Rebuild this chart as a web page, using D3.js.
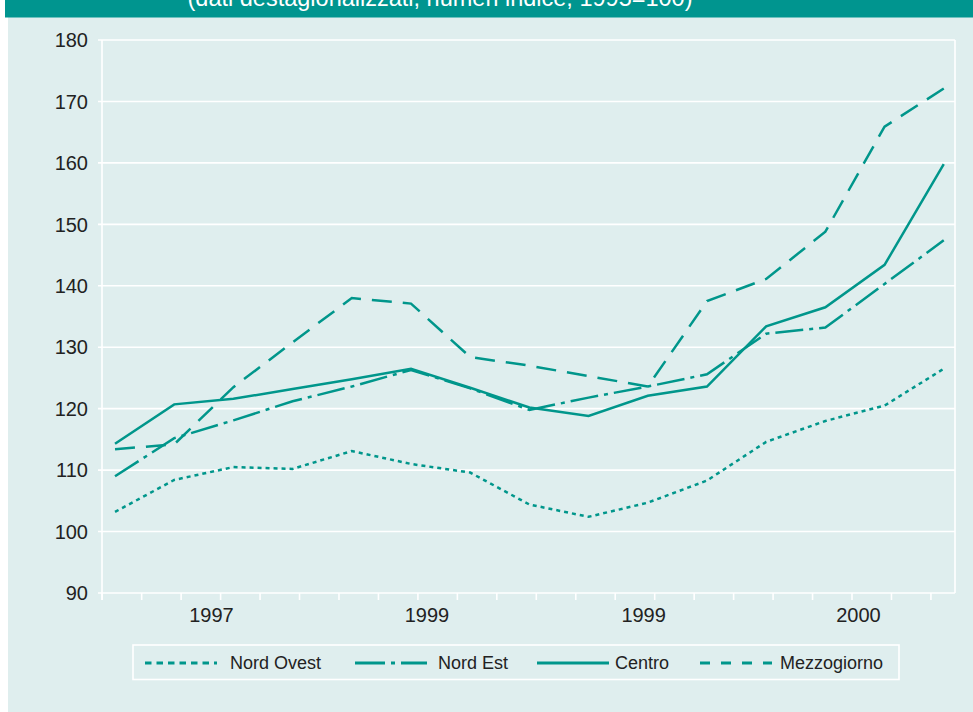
<!DOCTYPE html>
<html>
<head>
<meta charset="utf-8">
<script src="https://cdn.jsdelivr.net/npm/d3@7.9.0/dist/d3.min.js"></script>
<style>
  body { margin: 0; background: #fff; }
  svg { display: block; font-family: "Liberation Sans", Arial, sans-serif; }
</style>
</head>
<body>
<svg id="chart" width="973" height="712"></svg>
<script>
// quarterly observations, index 0..14
const periods = [0, 1, 2, 3, 4, 5, 6, 7, 8, 9, 10, 11, 12, 13, 14];

const nordOvest = [103.2, 108.4, 110.5, 110.2, 113.1, 111.0, 109.6, 104.4, 102.4, 104.7, 108.3, 114.6, 118.0, 120.5, 126.5];
const nordEst = [109.0, 115.2, 118.1, 121.2, 123.6, 126.3, 123.3, 119.8, 121.8, 123.6, 125.6, 132.2, 133.2, 140.3, 147.4];
const centro = [114.3, 120.7, 121.6, 123.2, 124.8, 126.5, 123.4, 120.2, 118.8, 122.1, 123.6, 133.4, 136.5, 143.4, 159.8];
const mezzogiorno = [113.4, 114.2, 123.5, 130.8, 138.0, 137.1, 128.4, 127.0, 125.3, 123.6, 137.5, 141.1, 148.8, 165.9, 172.1];

const seriesNames = ['Nord Ovest', 'Nord Est', 'Centro', 'Mezzogiorno'];
const yTicks = [90, 100, 110, 120, 130, 140, 150, 160, 170, 180];
const yearLabels = ['1997', '1999', '1999', '2000'];
const yearLabelAt = [1.63, 5.27, 8.93, 12.56];

const teal = '#00968b';
const panel = '#dfeeee';

const series = [
  { name: seriesNames[0], values: nordOvest, dash: '4,4', legendDash: '6.5,5' },
  { name: seriesNames[1], values: nordEst, dash: '28,6,4,6', legendDash: '30,6,4,6' },
  { name: seriesNames[2], values: centro, dash: null, legendDash: null },
  { name: seriesNames[3], values: mezzogiorno, dash: '20,11', legendDash: '10,11' },
];

const svg = d3.select('#chart');

// background panel and header band (title is cropped at the top, as in the source)
svg.append('rect').attr('x', 8).attr('y', 0).attr('width', 965).attr('height', 712).attr('fill', panel);
svg.append('rect').attr('x', 5).attr('y', 0).attr('width', 968).attr('height', 17.5).attr('fill', '#00958f');
svg.append('text')
  .attr('x', 440).attr('y', 6)
  .attr('text-anchor', 'middle')
  .attr('fill', '#fff')
  .attr('font-size', 23.5)
  .text('(dati destagionalizzati; numeri indice; 1995=100)');

const x = d3.scaleLinear().domain([-0.22, 14.19]).range([102, 955]);
const y = d3.scaleLinear().domain([90, 180]).range([593, 40]);

// gridlines
svg.append('g')
  .selectAll('line')
  .data(yTicks)
  .join('line')
  .attr('x1', 98).attr('x2', 955)
  .attr('y1', (d) => y(d)).attr('y2', (d) => y(d))
  .attr('stroke', '#fff')
  .attr('stroke-width', 1.6);

// plot frame sides
svg.append('line').attr('x1', x.range()[0]).attr('x2', x.range()[0])
  .attr('y1', y(180)).attr('y2', y(90) + 7).attr('stroke', '#fff').attr('stroke-width', 1.6);
svg.append('line').attr('x1', x.range()[1]).attr('x2', x.range()[1])
  .attr('y1', y(180)).attr('y2', y(90)).attr('stroke', '#fff').attr('stroke-width', 1.6);

// y labels
svg.append('g')
  .selectAll('text')
  .data(yTicks)
  .join('text')
  .attr('x', 88)
  .attr('y', (d) => y(d))
  .attr('dy', '0.36em')
  .attr('text-anchor', 'end')
  .attr('font-size', 20)
  .attr('fill', '#222')
  .text((d) => d);

// x axis ticks
const xAxis = d3.axisBottom(x)
  .tickValues(d3.range(22).map((k) => -0.225 + k * 2 / 3))
  .tickSize(7)
  .tickFormat('');
const gx = svg.append('g').attr('transform', `translate(0,${y(90)})`).call(xAxis);
gx.select('.domain').remove();
gx.selectAll('.tick line').attr('stroke', '#fff').attr('stroke-width', 1.6);

svg.append('g')
  .selectAll('text')
  .data(yearLabels)
  .join('text')
  .attr('x', (d, i) => x(yearLabelAt[i]))
  .attr('y', 622)
  .attr('text-anchor', 'middle')
  .attr('font-size', 20)
  .attr('fill', '#222')
  .text((d) => d);

// lines
const line = d3.line()
  .x((d, i) => x(periods[i]))
  .y((d) => y(d));

svg.append('g')
  .selectAll('path')
  .data(series)
  .join('path')
  .attr('d', (d) => line(d.values))
  .attr('fill', 'none')
  .attr('stroke', teal)
  .attr('stroke-width', 2.5)
  .attr('stroke-dasharray', (d) => d.dash);

// legend
svg.append('rect')
  .attr('x', 133).attr('y', 645).attr('width', 766).attr('height', 34.5)
  .attr('fill', 'none').attr('stroke', '#fff').attr('stroke-width', 1.6);

const legendX = [145, 355, 537, 700];
const legendTextX = [230, 438, 615, 780];
const lg = svg.append('g')
  .selectAll('g')
  .data(series)
  .join('g');
lg.append('line')
  .attr('x1', (d, i) => legendX[i]).attr('x2', (d, i) => legendX[i] + 72)
  .attr('y1', 663).attr('y2', 663)
  .attr('stroke', teal).attr('stroke-width', 2.8)
  .attr('stroke-dasharray', (d) => d.legendDash);
lg.append('text')
  .attr('x', (d, i) => legendTextX[i])
  .attr('y', 669)
  .attr('font-size', 18)
  .attr('fill', '#222')
  .text((d) => d.name);
</script>
</body>
</html>
